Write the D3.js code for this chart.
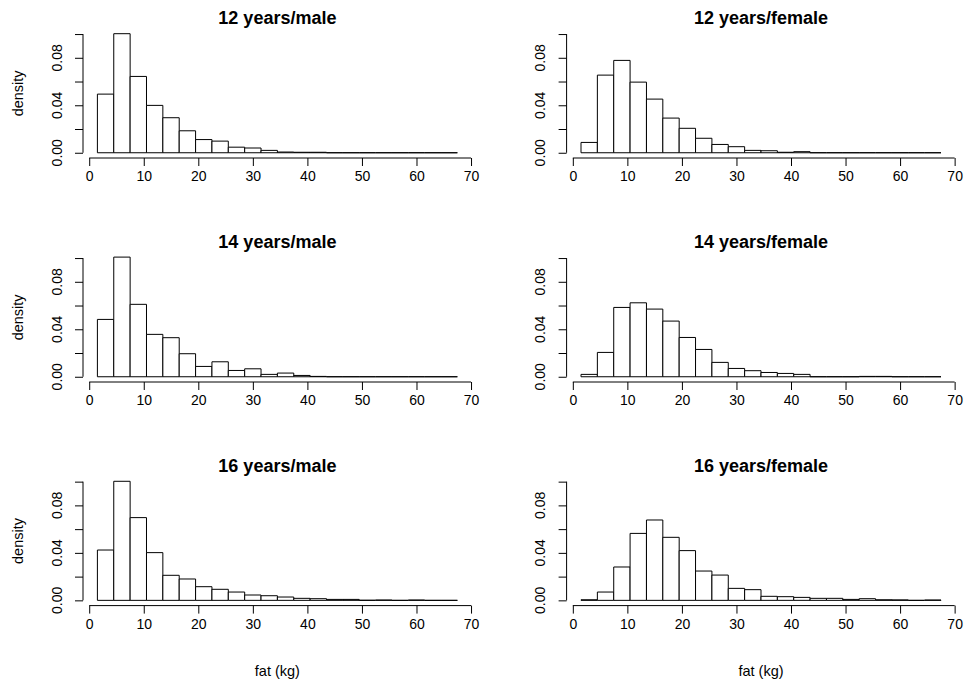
<!DOCTYPE html>
<html>
<head>
<meta charset="utf-8">
<script src="https://cdn.jsdelivr.net/npm/d3@7"></script>
<style>
  body { margin: 0; background: #fff; }
  svg { display: block; font-family: "Liberation Sans", Arial, sans-serif; }
</style>
</head>
<body>
<svg id="chart" width="966" height="686"></svg>
<script>
// Bin edges (kg) shared by every histogram
const breaks = [1.5, 4.5, 7.5, 10.5, 13.5, 16.5, 19.5, 22.5, 25.5, 28.5, 31.5, 34.5,
  37.5, 40.5, 43.5, 46.5, 49.5, 52.5, 55.5, 58.5, 61.5, 64.5, 67.5]

// Densities, one value per bin
const male12 = [0.0494, 0.1003, 0.0643, 0.0399, 0.0295, 0.0185, 0.0111, 0.0098, 0.0047, 0.0040, 0.0020,
  0.0006, 0.0004, 0.0004, 0, 0, 0, 0, 0, 0, 0, 0]
const female12 = [0.0087, 0.0654, 0.0778, 0.0595, 0.0452, 0.0292, 0.0206, 0.0122, 0.0070, 0.0051, 0.0020,
  0.0017, 0.0004, 0.0009, 0, 0, 0, 0, 0, 0, 0, 0]
const male14 = [0.0483, 0.1008, 0.0610, 0.0357, 0.0329, 0.0194, 0.0087, 0.0126, 0.0053, 0.0067, 0.0020,
  0.0031, 0.0011, 0.0003, 0, 0, 0, 0, 0, 0, 0, 0]
const female14 = [0.0020, 0.0205, 0.0584, 0.0623, 0.0570, 0.0469, 0.0331, 0.0230, 0.0121, 0.0070, 0.0051,
  0.0036, 0.0028, 0.0020, 0, 0, 0, 0.0003, 0.0003, 0, 0, 0]
const male16 = [0.0424, 0.1003, 0.0697, 0.0402, 0.0211, 0.0180, 0.0115, 0.0093, 0.0070, 0.0045, 0.0039,
  0.0028, 0.0017, 0.0014, 0.0008, 0.0008, 0.0001, 0.0003, 0, 0.0003, 0, 0]
const female16 = [0.0005, 0.0070, 0.0281, 0.0564, 0.0677, 0.0531, 0.0419, 0.0247, 0.0213, 0.0101, 0.0090,
  0.0034, 0.0031, 0.0025, 0.0017, 0.0017, 0.0008, 0.0014, 0.0005, 0.0004, 0, 0.0003]

const titles = ['12 years/male', '12 years/female', '14 years/male', '14 years/female',
  '16 years/male', '16 years/female']
const series = [male12, female12, male14, female14, male16, female16]

const xTicks = [0, 10, 20, 30, 40, 50, 60, 70]
const yTicks = [0, 0.02, 0.04, 0.06, 0.08, 0.10]
const yLabelled = [0, 0.04, 0.08]

// Layout (plot regions in pixels)
const colLeft = [83, 566.6]
const plotW = 388.8
const rowTop = [29.3, 253.3, 476.9]
const plotH = 128.2
const xDomain = [-1.14, 70.14]
const yDomain = [-0.004, 0.104]
const tickFont = 14

const svg = d3.select('#chart')

series.forEach((vals, i) => {
  const col = i % 2
  const row = Math.floor(i / 2)
  const left = colLeft[col]
  const top = rowTop[row]

  const x = d3.scaleLinear().domain(xDomain).range([left, left + plotW])
  const y = d3.scaleLinear().domain(yDomain).range([top + plotH, top])

  const g = svg.append('g')

  // bars (paths so that empty bins still show as a line on the baseline)
  g.selectAll('.bar')
    .data(vals)
    .enter()
    .append('path')
    .attr('class', 'bar')
    .attr('d', (d, j) => {
      const x0 = x(breaks[j]), x1 = x(breaks[j + 1])
      return `M${x0},${y(0)}V${y(d)}H${x1}V${y(0)}Z`
    })
    .attr('fill', '#fff')
    .attr('stroke', '#000')
    .attr('stroke-width', 1)

  // x axis
  const xAxis = g.append('g')
    .attr('transform', `translate(0, ${top + plotH + 0.5})`)
    .call(d3.axisBottom(x).tickValues(xTicks).tickSize(8).tickSizeOuter(0).tickPadding(5.5))
  xAxis.select('.domain').remove()
  xAxis.append('line')
    .attr('x1', x(0)).attr('x2', x(70))
    .attr('stroke', '#000')
  xAxis.selectAll('text').attr('font-size', tickFont).attr('fill', '#000')
    .style('font-family', '"Liberation Sans", Arial, sans-serif')

  // y axis
  const yAxis = g.append('g')
    .attr('transform', `translate(${left}, 0)`)
    .call(d3.axisLeft(y).tickValues(yTicks).tickSize(8).tickSizeOuter(0).tickFormat(''))
  yAxis.select('.domain').remove()
  yAxis.append('line')
    .attr('y1', y(0)).attr('y2', y(0.1))
    .attr('stroke', '#000')

  g.selectAll('.ylab')
    .data(yLabelled)
    .enter()
    .append('text')
    .attr('class', 'ylab')
    .attr('transform', d => `translate(${left - 21.3}, ${y(d)}) rotate(-90)`)
    .attr('text-anchor', 'middle')
    .attr('font-size', tickFont)
    .text(d => d.toFixed(2))

  // title
  g.append('text')
    .attr('x', left + plotW / 2)
    .attr('y', top - 5)
    .attr('text-anchor', 'middle')
    .attr('font-size', 18)
    .attr('font-weight', 'bold')
    .text(titles[i])

  if (col === 0) {
    g.append('text')
      .attr('transform', `translate(23, ${top + plotH / 2}) rotate(-90)`)
      .attr('text-anchor', 'middle')
      .attr('font-size', 14.5)
      .text('density')
  }
  if (row === 2) {
    g.append('text')
      .attr('x', left + plotW / 2)
      .attr('y', 676)
      .attr('text-anchor', 'middle')
      .attr('font-size', 14.5)
      .text('fat (kg)')
  }
})
</script>
</body>
</html>
